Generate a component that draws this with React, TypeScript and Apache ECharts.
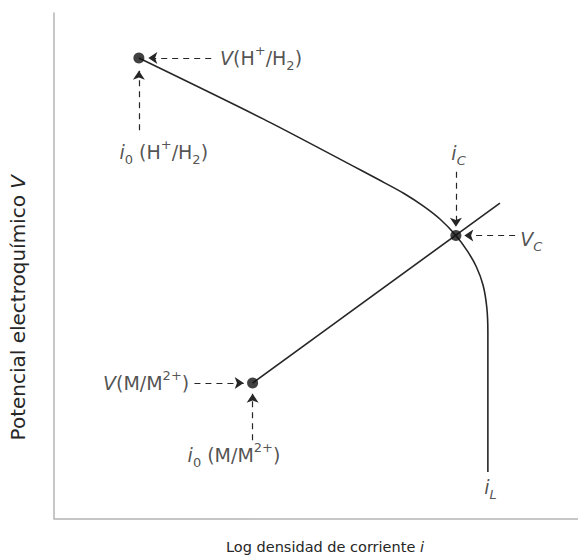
import React, { useEffect, useRef } from "react";
import * as echarts from "echarts";

// Axis ranges (arbitrary units: log current density and electrochemical potential)
const xRange: [number, number] = [0, 10];
const yRange: [number, number] = [0, 10];

// Hydrogen polarization curve, bending into the limiting current i_L
const hydrogenCurve: [number, number][] = [
  [1.62, 9.11],
  [4.0, 7.9],
  [6.31, 6.64],
  [6.68, 6.43],
  [7.05, 6.18],
  [7.37, 5.92],
  [7.67, 5.6],
  [7.89, 5.29],
  [8.06, 4.98],
  [8.19, 4.61],
  [8.26, 4.17],
  [8.28, 3.69],
  [8.28, 0.92],
];

// Metal dissolution line, running past the corrosion point
const metalLine: [number, number][] = [
  [3.79, 2.68],
  [8.51, 6.24],
];

// Exchange-current points and the corrosion point
const markedPoints: [number, number][] = [
  [1.62, 9.11],
  [3.79, 2.68],
  [7.67, 5.6],
];

// Dashed pointer arrows: [from, to]
const pointerArrows: [[number, number], [number, number]][] = [
  [[3.0, 9.11], [1.8, 9.11]],
  [[1.62, 7.68], [1.62, 8.86]],
  [[7.67, 6.86], [7.67, 5.77]],
  [[8.8, 5.6], [7.83, 5.6]],
  [[2.68, 2.68], [3.62, 2.68]],
  [[3.79, 1.55], [3.79, 2.47]],
];

// Annotation texts with their anchor points
const annotationTexts: string[] = [
  "{it|V}{n|(H}{sup|+}{n|/H}{sub|2}{n|)}",
  "{it|i}{sub|0}{n| (H}{sup|+}{n|/H}{sub|2}{n|)}",
  "{it|i}{itsub|C}",
  "{it|V}{itsub|C}",
  "{it|V}{n|(M/M}{sup|2+}{n|)}",
  "{it|i}{sub|0}{n| (M/M}{sup|2+}{n|)}",
  "{it|i}{itsub|L}",
];
const annotationAnchors: [number, number][] = [
  [3.17, 9.11],
  [1.25, 7.26],
  [7.72, 7.24],
  [8.9, 5.53],
  [2.58, 2.68],
  [2.55, 1.25],
  [8.33, 0.62],
];
const annotationAlign: ("left" | "center" | "right")[] = [
  "left",
  "left",
  "center",
  "left",
  "right",
  "left",
  "center",
];

const FONT = "DejaVu Sans";
const INK = "#262626";

const makeRich = (base: number, small: number, lh: number) => ({
  n: { fontFamily: FONT, fontSize: base, color: INK, lineHeight: lh },
  it: { fontFamily: FONT, fontSize: base, fontStyle: "italic", color: INK, lineHeight: lh },
  sup: { fontFamily: FONT, fontSize: small, color: INK, lineHeight: small + 4, verticalAlign: "top" },
  sub: { fontFamily: FONT, fontSize: small, color: INK, lineHeight: small + 4, verticalAlign: "bottom" },
  itsub: {
    fontFamily: FONT,
    fontSize: small,
    fontStyle: "italic",
    color: INK,
    lineHeight: small + 4,
    verticalAlign: "bottom",
  },
});

const annotationRich = makeRich(19, 13, 28);
const xNameRich = makeRich(14.5, 11, 22);
const yNameRich = makeRich(20, 13, 26);

const axisBase = {
  type: "value" as const,
  axisLine: { show: true, lineStyle: { color: "#b4b4b4", width: 1.5 } },
  axisTick: { show: false },
  axisLabel: { show: false },
  splitLine: { show: false },
};

export default function App() {
  const ref = useRef<HTMLDivElement>(null);

  useEffect(() => {
    if (!ref.current) return;
    const chart = echarts.init(ref.current, undefined, { renderer: "svg" });
    chart.setOption({
      animation: false,
      backgroundColor: "#ffffff",
      grid: { left: 42, right: 0, top: 13, bottom: 28 },
      xAxis: {
        ...axisBase,
        min: xRange[0],
        max: xRange[1],
        name: "{n|Log densidad de corriente }{it|i}",
        nameLocation: "middle",
        nameGap: 17,
        nameTextStyle: { rich: xNameRich, padding: [0, 0, 0, 18] },
      },
      yAxis: {
        ...axisBase,
        min: yRange[0],
        max: yRange[1],
        name: "{n|Potencial electroquímico }{it|V}",
        nameLocation: "middle",
        nameGap: 23,
        nameTextStyle: { rich: yNameRich, padding: [0, 84, 0, 0] },
      },
      series: [
        {
          type: "line",
          data: hydrogenCurve,
          showSymbol: false,
          smooth: 0.25,
          lineStyle: { color: INK, width: 1.6 },
          silent: true,
        },
        {
          type: "line",
          data: metalLine,
          showSymbol: false,
          lineStyle: { color: INK, width: 1.6 },
          silent: true,
        },
        {
          type: "lines",
          coordinateSystem: "cartesian2d",
          data: pointerArrows.map((coords) => ({ coords })),
          symbol: ["none", "arrow"],
          symbolSize: 9,
          lineStyle: { color: INK, width: 1.2, type: [6, 5], opacity: 1 },
          silent: true,
        },
        {
          type: "scatter",
          data: markedPoints,
          symbolSize: 11,
          itemStyle: { color: "#111111" },
          silent: true,
          z: 5,
        },
        {
          type: "scatter",
          symbolSize: 0,
          silent: true,
          data: annotationAnchors.map((value, i) => ({
            value,
            label: {
              show: true,
              position: "inside",
              align: annotationAlign[i],
              verticalAlign: "middle",
              formatter: annotationTexts[i],
              rich: annotationRich,
            },
          })),
        },
      ],
    });
    return () => chart.dispose();
  }, []);

  return (
    <div
      ref={ref}
      style={{ position: "fixed", left: 0, top: 0, width: 578, height: 559 }}
    />
  );
}
